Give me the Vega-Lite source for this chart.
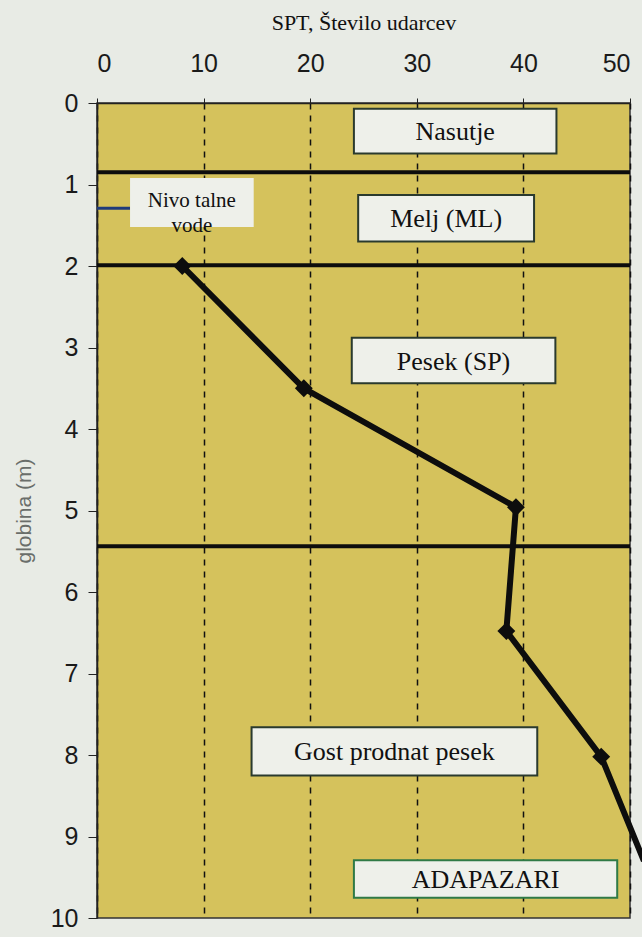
{
  "$schema": "https://vega.github.io/schema/vega-lite/v6.json",
  "width": 533,
  "height": 815,
  "autosize": "none",
  "padding": {"left": 97, "top": 103, "right": 12, "bottom": 19},
  "background": "#e8ebe5",
  "view": {"fill": "#d5c25c", "stroke": "#333333", "strokeWidth": 1.5},
  "datasets": {
    "spt": [
      {"spt": 8, "depth": 2.0},
      {"spt": 19.4, "depth": 3.5},
      {"spt": 39.3, "depth": 4.96},
      {"spt": 38.4, "depth": 6.48},
      {"spt": 47.3, "depth": 8.02},
      {"spt": 51.3, "depth": 9.3}
    ],
    "layers": [{"depth": 0.85}, {"depth": 1.99}, {"depth": 5.44}],
    "boxes": [
      {"label": "Nasutje", "x1": 24.1, "x2": 43.1, "y1": 0.07, "y2": 0.62, "kind": "soil"},
      {"label": "Melj (ML)", "x1": 24.5, "x2": 41.0, "y1": 1.13, "y2": 1.7, "kind": "soil"},
      {"label": "Pesek (SP)", "x1": 23.9, "x2": 43.0, "y1": 2.88, "y2": 3.44, "kind": "soil"},
      {"label": "Gost prodnat pesek", "x1": 14.5, "x2": 41.3, "y1": 7.66, "y2": 8.25, "kind": "soil"},
      {"label": "ADAPAZARI", "x1": 24.1, "x2": 48.8, "y1": 9.29, "y2": 9.75, "kind": "site"}
    ]
  },
  "encoding": {
    "x": {
      "type": "quantitative",
      "scale": {"domain": [0, 50], "nice": false, "zero": false},
      "axis": {
        "orient": "top",
        "title": "SPT, Število udarcev",
        "titleFont": "Liberation Serif",
        "titleFontSize": 22,
        "titleFontWeight": "normal",
        "titleColor": "#111111",
        "titlePadding": 17,
        "values": [0, 10, 20, 30, 40, 50],
        "labelFont": "Liberation Sans",
        "labelFontSize": 25,
        "labelColor": "#1a1a1a",
        "labelPadding": 22,
        "tickColor": "#222222",
        "tickSize": 5,
        "domainColor": "#222222",
        "domainWidth": 1.5,
        "grid": true,
        "gridColor": "#111111",
        "gridDash": [6, 6],
        "gridWidth": 1.5,
        "gridOpacity": 1
      }
    },
    "y": {
      "type": "quantitative",
      "scale": {"domain": [0, 10], "nice": false, "zero": false, "reverse": true},
      "axis": {
        "title": "globina (m)",
        "titleFont": "Liberation Sans",
        "titleFontSize": 21,
        "titleFontWeight": "normal",
        "titleColor": "#6a6e6a",
        "titlePadding": 16,
        "values": [0, 1, 2, 3, 4, 5, 6, 7, 8, 9, 10],
        "labelFont": "Liberation Sans",
        "labelFontSize": 25,
        "labelColor": "#1a1a1a",
        "labelPadding": 10,
        "tickColor": "#222222",
        "tickSize": 9,
        "domainColor": "#222222",
        "domainWidth": 1.5,
        "grid": false
      }
    }
  },
  "layer": [
    {
      "data": {"name": "layers"},
      "mark": {"type": "rule", "color": "#0d0d0d", "strokeWidth": 4},
      "encoding": {"y": {"field": "depth", "type": "quantitative"}}
    },
    {
      "data": {"values": [{"x1": 0, "x2": 3.1, "y": 1.29}]},
      "mark": {"type": "rule", "color": "#1f3b7a", "strokeWidth": 3},
      "encoding": {
        "x": {"field": "x1", "type": "quantitative"},
        "x2": {"field": "x2"},
        "y": {"field": "y", "type": "quantitative"}
      }
    },
    {
      "data": {"values": [{"label": ["Nivo talne", "vode"], "x1": 3.1, "x2": 14.7, "y1": 0.92, "y2": 1.52}]},
      "layer": [
        {
          "mark": {"type": "rect", "fill": "#eef0ea"},
          "encoding": {
            "x": {"field": "x1", "type": "quantitative"},
            "x2": {"field": "x2"},
            "y": {"field": "y1", "type": "quantitative"},
            "y2": {"field": "y2"}
          }
        },
        {
          "transform": [{"calculate": "(datum.x1 + datum.x2) / 2", "as": "xc"}, {"calculate": "(datum.y1 + datum.y2) / 2", "as": "yc"}],
          "mark": {"type": "text", "font": "Liberation Serif", "fontSize": 21, "color": "#111111", "lineHeight": 25, "baseline": "middle", "dy": -1},
          "encoding": {
            "x": {"field": "xc", "type": "quantitative"},
            "y": {"field": "yc", "type": "quantitative"},
            "text": {"field": "label"}
          }
        }
      ]
    },
    {
      "data": {"name": "boxes"},
      "layer": [
        {
          "mark": {"type": "rect", "fill": "#eef0ea", "strokeWidth": 2},
          "encoding": {
            "x": {"field": "x1", "type": "quantitative"},
            "x2": {"field": "x2"},
            "y": {"field": "y1", "type": "quantitative"},
            "y2": {"field": "y2"},
            "stroke": {
              "field": "kind",
              "type": "nominal",
              "scale": {"domain": ["soil", "site"], "range": ["#2a3a2e", "#2f7a46"]},
              "legend": null
            }
          }
        },
        {
          "transform": [{"calculate": "(datum.x1 + datum.x2) / 2", "as": "xc"}, {"calculate": "(datum.y1 + datum.y2) / 2", "as": "yc"}],
          "mark": {"type": "text", "font": "Liberation Serif", "fontSize": 26, "color": "#111111", "baseline": "middle", "dy": 1},
          "encoding": {
            "x": {"field": "xc", "type": "quantitative"},
            "y": {"field": "yc", "type": "quantitative"},
            "text": {"field": "label"}
          }
        }
      ]
    },
    {
      "data": {"name": "spt"},
      "mark": {"type": "line", "color": "#0d0d0d", "strokeWidth": 6},
      "encoding": {
        "x": {"field": "spt", "type": "quantitative"},
        "y": {"field": "depth", "type": "quantitative"},
        "order": {"field": "depth"}
      }
    },
    {
      "data": {"name": "spt"},
      "transform": [{"filter": "datum.spt <= 50"}],
      "mark": {"type": "point", "shape": "diamond", "filled": true, "color": "#0d0d0d", "size": 320, "opacity": 1},
      "encoding": {
        "x": {"field": "spt", "type": "quantitative"},
        "y": {"field": "depth", "type": "quantitative"}
      }
    }
  ]
}
